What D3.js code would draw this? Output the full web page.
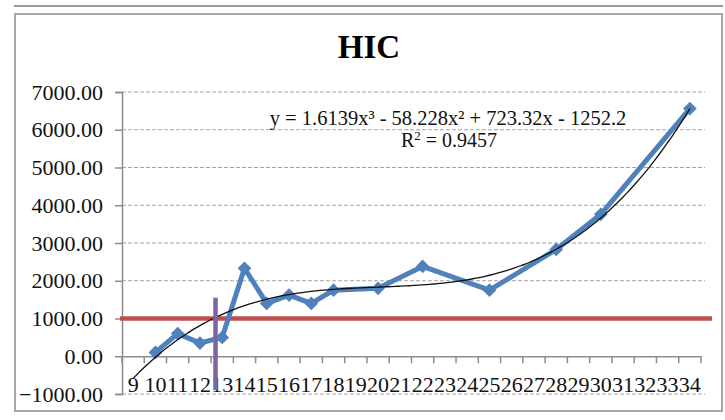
<!DOCTYPE html>
<html>
<head>
<meta charset="utf-8">
<script src="https://cdn.jsdelivr.net/npm/d3@7"></script>
<style>
  body { margin: 0; background: #fff; }
  text { font-family: "Liberation Serif", "Times New Roman", serif; }
</style>
</head>
<body>
<div id="chart-area"></div>
<script>
// data
var categories = ['9', '10', '11', '12', '13', '14', '15', '16', '17', '18', '19', '20', '21',
  '22', '23', '24', '25', '26', '27', '28', '29', '30', '31', '32', '33', '34'];
var pointCats = ['10', '11', '12', '13', '14', '15', '16', '17', '18', '20', '22', '25', '28', '30', '34'];
var pointValues = [100, 600, 350, 500, 2330, 1400, 1620, 1400, 1750, 1800, 2380, 1750, 2830, 3760, 6560];
var yTicks = [-1000, 0, 1000, 2000, 3000, 4000, 5000, 6000, 7000];
// cubic trendline coefficients (x = category index from 1)
var trendCoef = [1.6139, -58.228, 723.32, -1252.2];
var limitValue = 1000;
// purple marker: category position and span
var markerPos = 12.7;
var markerSpan = [1550, -900];

var W = 725, H = 420;
var margin = {left: 122, right: 24, top: 92, bottom: 26};
var width = 701 - margin.left;
var height = 394 - margin.top;

var svg = d3.select('#chart-area')
  .append('svg')
  .attr('width', W)
  .attr('height', H);

// page line and chart frame
svg.append('line')
  .attr('x1', 14).attr('x2', 723).attr('y1', 6).attr('y2', 6)
  .attr('stroke', '#9a9a9a').attr('stroke-width', 2);
svg.append('rect')
  .attr('x', 15).attr('y', 14).attr('width', 707).attr('height', 397)
  .attr('fill', 'none').attr('stroke', '#a6a6a6').attr('stroke-width', 2);

svg.append('text')
  .attr('x', 369)
  .attr('y', 58)
  .attr('text-anchor', 'middle')
  .attr('font-size', '33px')
  .attr('font-weight', 'bold')
  .text('HIC');

var g = svg.append('g')
  .attr('transform', 'translate(' + margin.left + ', ' + margin.top + ')');

var x = d3.scaleBand()
  .domain(categories)
  .range([0, width]);

var y = d3.scaleLinear()
  .domain([-1000, 7000])
  .range([height, 0]);

// index scale for trendline / markers (1 = first category)
var xi = d3.scaleLinear()
  .domain([1, categories.length])
  .range([x(categories[0]) + x.bandwidth() / 2, x(categories[categories.length - 1]) + x.bandwidth() / 2]);

// gridlines
g.append('g')
  .selectAll('line')
  .data(yTicks.filter(function (d) { return d !== 0; }))
  .enter()
  .append('line')
  .attr('x1', 0)
  .attr('x2', width + 4)
  .attr('y1', function (d) { return y(d); })
  .attr('y2', function (d) { return y(d); })
  .attr('stroke', '#a3a3a3')
  .attr('stroke-width', 1.2)
  .attr('stroke-dasharray', '4,2');

// y axis
var yAxisCall = d3.axisLeft(y)
  .tickValues(yTicks)
  .tickSize(7)
  .tickPadding(12)
  .tickFormat(d3.format('.2f'));
var yAxis = g.append('g')
  .attr('class', 'y-axis')
  .call(yAxisCall);
yAxis.select('.domain').attr('stroke', '#8c8c8c').attr('stroke-width', 1.5);
yAxis.selectAll('line').attr('stroke', '#8c8c8c').attr('stroke-width', 1.5);
yAxis.selectAll('text').attr('font-size', '22px').attr('fill', '#111');

// x axis at zero
var xAxis = g.append('g')
  .attr('class', 'x-axis')
  .attr('transform', 'translate(0, ' + y(0) + ')')
  .call(d3.axisBottom(x).tickSize(0).tickPadding(20));
xAxis.select('.domain').attr('stroke', '#8c8c8c').attr('stroke-width', 1.5);
xAxis.selectAll('text').attr('font-size', '22px').attr('fill', '#111');
xAxis.selectAll('.bound')
  .data(d3.range(categories.length + 1))
  .enter()
  .append('line')
  .attr('class', 'bound')
  .attr('x1', function (d) { return d * x.step(); })
  .attr('x2', function (d) { return d * x.step(); })
  .attr('y1', 0)
  .attr('y2', 7)
  .attr('stroke', '#8c8c8c')
  .attr('stroke-width', 1.5);

// limit line at 1000
g.append('line')
  .attr('x1', -2)
  .attr('x2', width + 11)
  .attr('y1', y(limitValue))
  .attr('y2', y(limitValue))
  .attr('stroke', '#c0504d')
  .attr('stroke-width', 4.5);

// series line
var data = pointCats.map(function (c, i) { return {cat: c, value: pointValues[i]}; });
var line = d3.line()
  .x(function (d) { return x(d.cat) + x.bandwidth() / 2; })
  .y(function (d) { return y(d.value); });
g.append('path')
  .datum(data)
  .attr('d', line)
  .attr('fill', 'none')
  .attr('stroke', '#4f81bd')
  .attr('stroke-width', 5)
  .attr('stroke-linejoin', 'round');

g.selectAll('.pt')
  .data(data)
  .enter()
  .append('path')
  .attr('class', 'pt')
  .attr('d', d3.symbol().type(d3.symbolDiamond2).size(120))
  .attr('transform', function (d) {
    return 'translate(' + (x(d.cat) + x.bandwidth() / 2) + ',' + y(d.value) + ')';
  })
  .attr('fill', '#4f81bd');

// trendline
var trendX = d3.range(1, categories.length + 0.001, 0.2);
var trend = d3.line()
  .x(function (d) { return xi(d); })
  .y(function (d) {
    return y(trendCoef[0] * d * d * d + trendCoef[1] * d * d + trendCoef[2] * d + trendCoef[3]);
  })
  .curve(d3.curveBasis);
g.append('path')
  .datum(trendX)
  .attr('d', trend)
  .attr('fill', 'none')
  .attr('stroke', '#111')
  .attr('stroke-width', 1.3);

// purple marker
g.append('line')
  .attr('x1', xi(markerPos - 8))
  .attr('x2', xi(markerPos - 8))
  .attr('y1', y(markerSpan[0]))
  .attr('y2', y(markerSpan[1]))
  .attr('stroke', '#8064a2')
  .attr('stroke-width', 4.5);

// equation
svg.append('text')
  .attr('x', 448)
  .attr('y', 125)
  .attr('text-anchor', 'middle')
  .attr('font-size', '20.5px')
  .attr('fill', '#111')
  .text('y = 1.6139x\u00b3 - 58.228x\u00b2 + 723.32x - 1252.2');
var r2 = svg.append('text')
  .attr('x', 449)
  .attr('y', 147)
  .attr('text-anchor', 'middle')
  .attr('font-size', '20px')
  .attr('fill', '#111');
r2.append('tspan').text('R');
r2.append('tspan').attr('dy', -7).attr('font-size', '13px').text('2');
r2.append('tspan').attr('dy', 7).text(' = 0.9457');
</script>
</body>
</html>
